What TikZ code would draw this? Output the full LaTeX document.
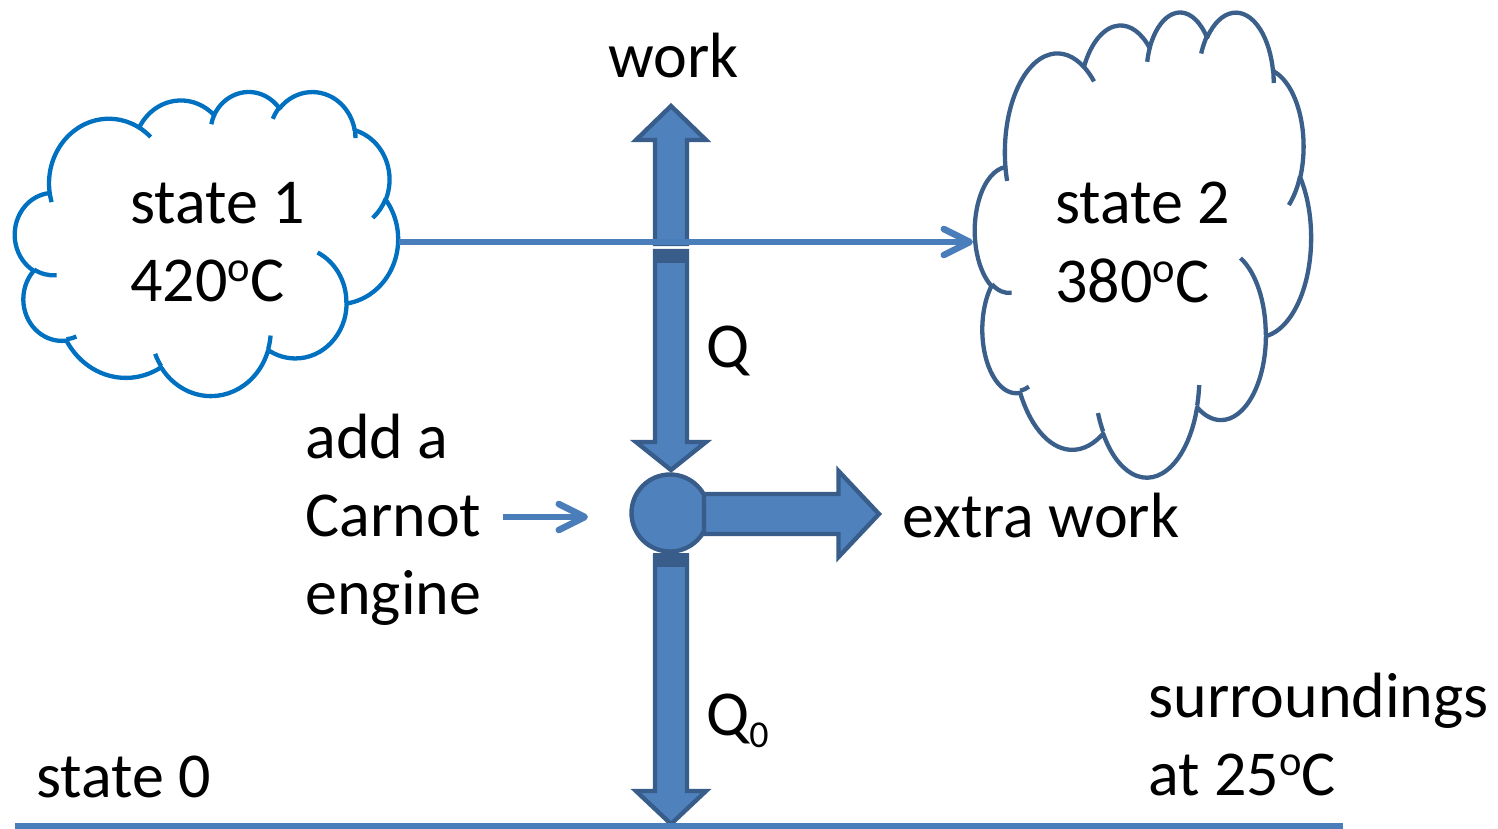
\documentclass[tikz,border=0pt]{standalone}
\usepackage{fontspec}
\setmainfont{Carlito}
\usetikzlibrary{arrows.meta}
\definecolor{afill}{HTML}{4F81BD}
\definecolor{aline}{HTML}{385D8A}
\definecolor{cone}{HTML}{0070C0}
\definecolor{ctwo}{HTML}{3A5F8B}
\definecolor{conn}{HTML}{4A7EBB}
\newcommand\carc[4]{arc[start angle={atan2(#1*sin(#3),#2*cos(#3))}, delta angle={mod(atan2(#1*sin(#3+#4),#2*cos(#3+#4))-atan2(#1*sin(#3),#2*cos(#3))+720,360)}, x radius=#1pt, y radius=#2pt]}
\newcommand\cloudmain{(3.9pt,14.37pt)
 \carc{6.753}{9.190}{-190.48748}{123.78053}
 \carc{5.333}{7.267}{-144.10238}{89.94523}
 \carc{4.365}{5.945}{-145.80792}{99.72302}
 \carc{4.857}{6.595}{-130.98607}{117.24173}
 \carc{5.333}{7.273}{-78.70888}{109.02692}
 \carc{6.775}{9.220}{-46.26725}{130.269}
 \carc{5.785}{7.867}{0.62502}{114.03333}
 \carc{6.752}{9.215}{22.4516}{115.17255}
 \carc{7.720}{10.543}{66.24263}{75.71102}
 \carc{4.360}{5.918}{-274.94208}{146.73557}
 \carc{4.345}{5.945}{-246.8285}{152.51885}
 -- cycle}
\newcommand\cloudinner{(4.693pt,26.177pt) \carc{4.345}{5.945}{86.742}{26.4295}
 (6.928pt,34.899pt) \carc{4.360}{5.918}{73.61047}{11.44747}
 (16.478pt,39.090pt) \carc{6.752}{9.215}{137.62415}{14.0811}
 (28.827pt,34.751pt) \carc{6.752}{9.215}{6.45327}{15.99835}
 (34.129pt,22.954pt) \carc{5.785}{7.867}{-70.29235}{70.91737}
 (41.798pt,15.354pt) \carc{5.333}{7.273}{30.31803}{27.7515}
 (38.324pt,5.426pt) \carc{4.857}{6.595}{-13.74433}{14.8589}
 (29.078pt,3.952pt) \carc{4.857}{6.595}{-149.18145}{18.19537}
 (22.141pt,4.720pt) \carc{4.365}{5.945}{-163.49427}{17.68635}
 (14.000pt,5.192pt) \carc{6.753}{9.190}{-66.70695}{12.31935}
 (4.127pt,15.789pt) \carc{6.753}{9.190}{157.65435}{11.85817}}
\newcommand\supo{\raisebox{9.6pt}{\fontsize{21.3}{21}\selectfont o}}
\tikzset{
  cloudline/.style={line width=2.15pt, line join=round},
  blockarrow/.style={fill=afill, draw=aline, line width=2.2pt, line join=miter},
  connline/.style={draw=conn, line width=3.25pt},
  barb/.style={-{Straight Barb[length=13pt,width=13pt,round]}},
  lbl/.style={anchor=base west, inner sep=0pt, font=\fontsize{32}{39}\selectfont},
  engine/.style={circle, fill=afill, draw=aline, line width=2.2pt, minimum size=38.5pt, inner sep=0pt}
}
\begin{document}
\begin{tikzpicture}[x=0.5pt,y=-0.5pt]
\useasboundingbox (0,0) rectangle (1498,829);
% clouds
\begin{scope}[shift={(15,91)}, xscale={0.5*383/43.2}, yscale={-0.5*304/43.2}]
  \draw[cloudline, draw=cone, fill=white] \cloudmain;
  \draw[cloudline, draw=cone] \cloudinner;
\end{scope}
\begin{scope}[shift={(975,11)}, xscale={0.5*336/43.2}, yscale={-0.5*465/43.2}]
  \draw[cloudline, draw=ctwo, fill=white] \cloudmain;
  \draw[cloudline, draw=ctwo] \cloudinner;
\end{scope}
% work arrow (up)
\draw[blockarrow] (655,244) -- (655,140) -- (636,140) -- (671,106) -- (706,140) -- (687,140) -- (687,244) -- cycle;
% Q arrow (down)
\draw[blockarrow] (655,251) -- (655,442) -- (636,442) -- (671,470) -- (706,442) -- (687,442) -- (687,251) -- cycle;
\fill[aline] (653,249) rectangle (689,263);
% Q0 arrow (down)
\draw[blockarrow] (655,556) -- (655,791) -- (636,791) -- (671,824) -- (706,791) -- (687,791) -- (687,556) -- cycle;
\fill[aline] (653,553) rectangle (689,567);
% engine
\node[engine] (eng) at (670,513) {};
% extra work arrow
\draw[blockarrow] (704,494) -- (838.5,494) -- (838.5,471) -- (879,514) -- (838.5,557) -- (838.5,534) -- (704,534) -- cycle;
% connectors
\coordinate (s1e) at (399,242);
\coordinate (s2w) at (973,242);
\draw[connline, barb] (s1e) -- (s2w);
\coordinate (cs) at (503,517);
\coordinate (ce) at (588,517);
\draw[connline, barb] (cs) -- (ce);
\coordinate (gl) at (15,826.5);
\coordinate (gr) at (1343,826.5);
\draw[connline] (gl) -- (gr);
% labels
\node[lbl] (work) at (608,78) {work};
\node[lbl] (s1a) at (130,223) {state 1};
\node[lbl] (s1b) at (130,301) {420\supo C};
\node[lbl] (s2a) at (1055,223) {state 2};
\node[lbl] (s2b) at (1055,302) {380\supo C};
\node[lbl] (q) at (706,367) {Q};
\node[lbl] (add) at (305,458) {add a};
\node[lbl] (carnot) at (305,536) {Carnot};
\node[lbl] (engtxt) at (305,614) {engine};
\node[lbl] (extra) at (902,537) {extra work};
\node[lbl] (q0) at (706,735) {Q\raisebox{-6pt}{\fontsize{19}{19}\selectfont 0}};
\node[lbl] (s0) at (36,797) {state 0};
\node[lbl] (sur) at (1148,717) {surroundings};
\node[lbl] (at) at (1148,795) {at 25\supo C};
\end{tikzpicture}
\end{document}
